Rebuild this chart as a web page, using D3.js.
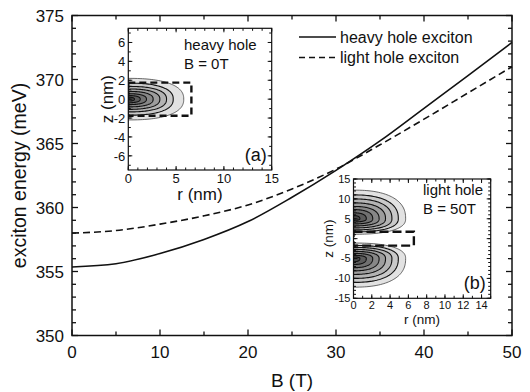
<!DOCTYPE html>
<html><head><meta charset="utf-8">
<script src="https://cdn.jsdelivr.net/npm/d3@7"></script>
<style>body{margin:0;background:#fff}svg{display:block}text{font-family:"Liberation Sans",Arial,sans-serif;fill:#111}</style>
</head><body><svg id="c" width="530" height="392"></svg>
<script>
// ---- main chart data ----
const fieldB = [0, 5, 10, 15, 20, 25, 30, 35, 40, 45, 50];
const heavyHole = [355.35, 355.6, 356.4, 357.5, 358.9, 360.8, 362.9, 365.2, 367.75, 370.3, 372.9];
const lightHole = [358.0, 358.2, 358.7, 359.35, 360.2, 361.45, 363.0, 364.9, 366.9, 368.95, 371.0];
const xTicks = [0, 10, 20, 30, 40, 50];
const xMinor = [5, 15, 25, 35, 45];
const yTicks = [350, 355, 360, 365, 370, 375];
const seriesNames = ["heavy hole exciton", "light hole exciton"];

// ---- inset (a): heavy hole, B = 0T; contour extents (r max, z half-height), centre z=0 ----
const insetA_r = [5.8, 4.7, 4.0, 3.3, 2.6, 1.9, 1.25, 0.65];
const insetA_zTop = [2.2, 1.7, 1.35, 1.08, 0.82, 0.58, 0.38, 0.2];
const insetA_rTicks = [0, 5, 10, 15];
const insetA_zTicks = [-6, -4, -2, 0, 2, 4, 6];
// ---- inset (b): light hole, B = 50T; upper lobe centred at z=5 (lower lobe mirrored) ----
const insetB_centre = 5;
const insetB_r = [5.7, 4.9, 4.2, 3.5, 2.8, 2.1, 1.4, 0.7];
const insetB_zTop = [12.2, 11.0, 10.0, 9.0, 8.1, 7.3, 6.5, 5.8];
const insetB_zBot = [1.1, 1.7, 2.2, 2.7, 3.2, 3.7, 4.2, 4.6];
const insetB_rTicks = [0, 2, 4, 6, 8, 10, 12, 14];
const insetB_zTicks = [-15, -10, -5, 0, 5, 10, 15];
// quantum-well box (dashed) in both insets
const wellR = 6.6, wellZ = 1.75;
const levelFill = ["#e2e2e2", "#c9c9c9", "#b3b3b3", "#9d9d9d", "#878787", "#717171", "#5c5c5c", "#474747"];

const svg = d3.select("#c");
const L = 72, R = 512, T = 15.5, Bm = 335.5;
const x = d3.scaleLinear().domain([0, 50]).range([L, R]);
const y = d3.scaleLinear().domain([350, 375]).range([Bm, T]);

// main frame
svg.append("rect").attr("x", L).attr("y", T).attr("width", R - L).attr("height", Bm - T)
  .attr("fill", "none").attr("stroke", "#111").attr("stroke-width", 1.5);

function ticks(g, scale, vals, len, orient, pos) {
  vals.forEach(v => {
    const p = scale(v);
    if (orient === "bottom") g.append("line").attr("x1", p).attr("x2", p).attr("y1", pos).attr("y2", pos - len);
    if (orient === "top") g.append("line").attr("x1", p).attr("x2", p).attr("y1", pos).attr("y2", pos + len);
    if (orient === "left") g.append("line").attr("y1", p).attr("y2", p).attr("x1", pos).attr("x2", pos + len);
    if (orient === "right") g.append("line").attr("y1", p).attr("y2", p).attr("x1", pos).attr("x2", pos - len);
  });
}
const tg = svg.append("g").attr("stroke", "#111").attr("stroke-width", 1.3);
ticks(tg, x, xTicks, 6, "bottom", Bm); ticks(tg, x, xMinor, 4, "bottom", Bm);
ticks(tg, x, xTicks, 6, "top", T); ticks(tg, x, xMinor, 4, "top", T);
const yMinor = d3.range(350, 376, 1).filter(v => v % 5 !== 0);
ticks(tg, y, yTicks, 6, "left", L); ticks(tg, y, yMinor, 4, "left", L);
ticks(tg, y, yTicks, 6, "right", R); ticks(tg, y, yMinor, 4, "right", R);

svg.append("g").selectAll("text").data(xTicks).join("text")
  .attr("x", d => x(d)).attr("y", 358).attr("text-anchor", "middle").attr("font-size", 17).text(d => d);
svg.append("g").selectAll("text").data(yTicks).join("text")
  .attr("x", 64).attr("y", d => y(d) + 6).attr("text-anchor", "end").attr("font-size", 17).text(d => d);
svg.append("text").attr("x", x(25)).attr("y", 387).attr("text-anchor", "middle").attr("font-size", 19).text("B (T)");
svg.append("text").attr("transform", `translate(26,${(T + Bm) / 2}) rotate(-90)`).attr("text-anchor", "middle")
  .attr("font-size", 19.5).text("exciton energy (meV)");

const line = d3.line().x((d, i) => x(fieldB[i])).y(d => y(d)).curve(d3.curveMonotoneX);
svg.append("path").attr("d", line(heavyHole)).attr("fill", "none").attr("stroke", "#111").attr("stroke-width", 1.6);
svg.append("path").attr("d", line(lightHole)).attr("fill", "none").attr("stroke", "#111").attr("stroke-width", 1.6)
  .attr("stroke-dasharray", "7,4");

// legend
const lg = svg.append("g");
[0, 1].forEach(i => {
  const ly = 37 + i * 20.5;
  lg.append("line").attr("x1", 299).attr("x2", 336).attr("y1", ly).attr("y2", ly)
    .attr("stroke", "#111").attr("stroke-width", 1.6).attr("stroke-dasharray", i ? "6,4" : null);
  lg.append("text").attr("x", 340).attr("y", ly + 5.5).attr("font-size", 16).text(seriesNames[i]);
});

// ---- insets ----
function lobePath(xs, ys, R0, zc, zTop, zBot) {
  const n = 2.4, pts = [];
  for (let k = 0; k <= 80; k++) {
    const th = Math.PI / 2 - Math.PI * k / 80;
    const c = Math.max(0, Math.cos(th)), s = Math.sin(th);
    const r = R0 * Math.pow(c, 2 / n);
    const dz = s >= 0 ? (zTop - zc) * Math.pow(s, 2 / n) : -(zc - zBot) * Math.pow(-s, 2 / n);
    pts.push([r, zc + dz]);
  }
  return d3.line().x(d => xs(d[0])).y(d => ys(d[1]))(pts) + "Z";
}

function inset(cfg) {
  const g = svg.append("g");
  const xs = d3.scaleLinear().domain(cfg.rDom).range([cfg.x0, cfg.x1]);
  const ys = d3.scaleLinear().domain(cfg.zDom).range([cfg.y1, cfg.y0]);
  g.append("rect").attr("x", cfg.x0).attr("y", cfg.y0).attr("width", cfg.x1 - cfg.x0).attr("height", cfg.y1 - cfg.y0)
    .attr("fill", "#fff");
  const id = "clip" + cfg.name;
  g.append("clipPath").attr("id", id).append("rect").attr("x", cfg.x0).attr("y", cfg.y0)
    .attr("width", cfg.x1 - cfg.x0).attr("height", cfg.y1 - cfg.y0);
  const cg = g.append("g").attr("clip-path", `url(#${id})`);
  cfg.lobes.forEach(lobe => {
    lobe.r.forEach((rv, i) => {
      cg.append("path").attr("d", lobePath(xs, ys, rv, lobe.zc, lobe.zTop[i], lobe.zBot[i]))
        .attr("fill", levelFill[i]).attr("stroke", i === 0 ? "#444" : "#111").attr("stroke-width", i === 0 ? 0.8 : 1.1);
    });
  });
  // dashed well box
  cg.append("rect").attr("x", xs(0)).attr("y", ys(wellZ)).attr("width", xs(wellR) - xs(0))
    .attr("height", ys(-wellZ) - ys(wellZ)).attr("fill", "none").attr("stroke", "#111")
    .attr("stroke-width", 2.4).attr("stroke-dasharray", cfg.dash);
  g.append("rect").attr("x", cfg.x0).attr("y", cfg.y0).attr("width", cfg.x1 - cfg.x0).attr("height", cfg.y1 - cfg.y0)
    .attr("fill", "none").attr("stroke", "#111").attr("stroke-width", 1.2);
  const t = g.append("g").attr("stroke", "#111").attr("stroke-width", 1);
  const rMinor = d3.range(cfg.rDom[0], cfg.rDom[1] + 0.01, 1);
  const zMinor = d3.range(Math.ceil(cfg.zDom[0]), cfg.zDom[1] + 0.01, 1);
  ticks(t, xs, cfg.rTicks, 4, "bottom", cfg.y1); ticks(t, xs, rMinor, 2.5, "bottom", cfg.y1);
  ticks(t, xs, cfg.rTicks, 4, "top", cfg.y0); ticks(t, xs, rMinor, 2.5, "top", cfg.y0);
  ticks(t, ys, cfg.zTicks, 4, "left", cfg.x0); ticks(t, ys, zMinor, 2.5, "left", cfg.x0);
  ticks(t, ys, cfg.zTicks, 4, "right", cfg.x1); ticks(t, ys, zMinor, 2.5, "right", cfg.x1);
  g.append("g").selectAll("text").data(cfg.rTicks).join("text").attr("x", d => xs(d)).attr("y", cfg.y1 + cfg.tfs)
    .attr("text-anchor", "middle").attr("font-size", cfg.tfs).text(d => d);
  g.append("g").selectAll("text").data(cfg.zTicks).join("text").attr("x", cfg.x0 - 3).attr("y", d => ys(d) + cfg.tfs * 0.36)
    .attr("text-anchor", "end").attr("font-size", cfg.tfs).text(d => d);
  g.append("text").attr("x", (cfg.x0 + cfg.x1) / 2).attr("y", cfg.rLabY).attr("text-anchor", "middle")
    .attr("font-size", cfg.lfs).text("r (nm)");
  g.append("text").attr("transform", `translate(${cfg.zLabX},${(cfg.y0 + cfg.y1) / 2}) rotate(-90)`)
    .attr("text-anchor", "middle").attr("font-size", cfg.lfs).text("z (nm)");
  g.append("text").attr("x", cfg.titleX).attr("y", cfg.titleY).attr("font-size", 15).text(cfg.title1);
  g.append("text").attr("x", cfg.titleX).attr("y", cfg.titleY + 18.5).attr("font-size", 15).text(cfg.title2);
  g.append("text").attr("x", cfg.x1 - 5).attr("y", cfg.y1 - 9).attr("text-anchor", "end").attr("font-size", 18).text(cfg.tag);
}

inset({
  name: "a", x0: 128.3, x1: 271.7, y0: 28.3, y1: 170, rDom: [0, 15], zDom: [-7.5, 7.5],
  rTicks: insetA_rTicks, zTicks: insetA_zTicks, tfs: 13, lfs: 17, rLabY: 200, zLabX: 113,
  title1: "heavy hole", title2: "B = 0T", titleX: 184, titleY: 50, tag: "(a)", dash: "7,4",
  lobes: [{ r: insetA_r, zc: 0, zTop: insetA_zTop, zBot: insetA_zTop.map(v => -v) }]
});
inset({
  name: "b", x0: 353.5, x1: 490.7, y0: 179, y1: 298.3, rDom: [0, 15], zDom: [-15, 15],
  rTicks: insetB_rTicks, zTicks: insetB_zTicks, tfs: 11, lfs: 13.5, rLabY: 324, zLabX: 333,
  title1: "light hole", title2: "B = 50T", titleX: 423, titleY: 195, tag: "(b)", dash: "9,4",
  lobes: [
    { r: insetB_r, zc: insetB_centre, zTop: insetB_zTop, zBot: insetB_zBot },
    { r: insetB_r, zc: -insetB_centre, zTop: insetB_zBot.map(v => -v), zBot: insetB_zTop.map(v => -v) }
  ]
});
</script></body></html>
